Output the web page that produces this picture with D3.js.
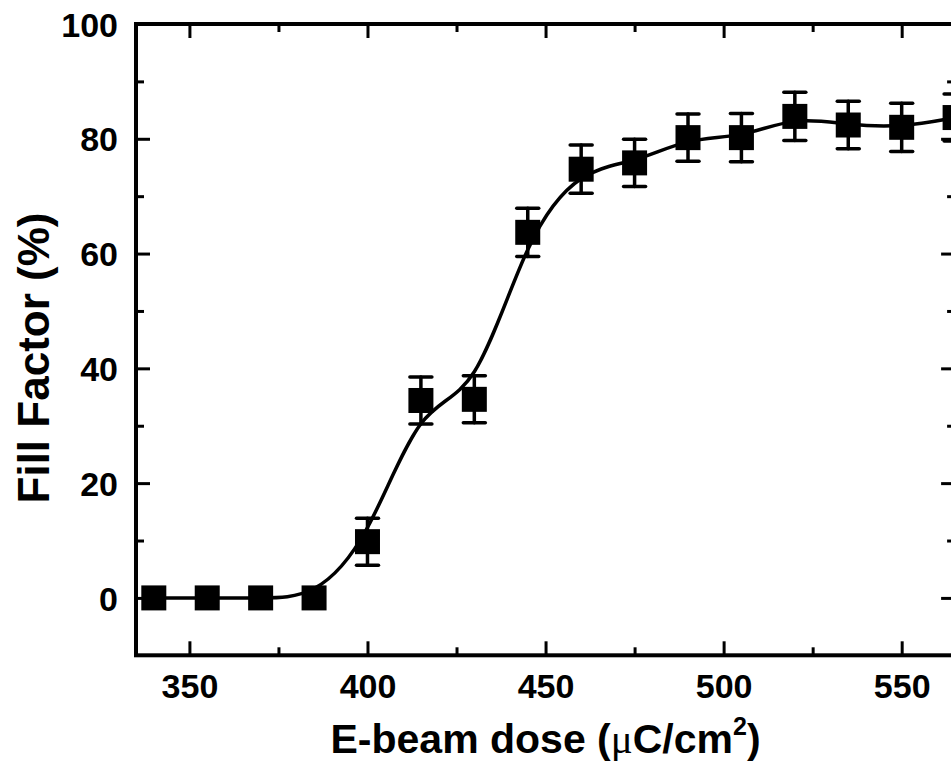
<!DOCTYPE html>
<html>
<head>
<meta charset="utf-8">
<script src="https://cdn.jsdelivr.net/npm/d3@7"></script>
<style>
  html, body { margin: 0; padding: 0; background: #fff; overflow: hidden; }
  svg { display: block; }
</style>
</head>
<body>
<svg id="chart" width="951" height="761"></svg>
<script>
// ---- data ----
const dose = [340, 355, 370, 385, 400, 415, 430, 445, 460, 475, 490, 505, 520, 535, 550, 565];
const fillFactor = [0, 0, 0, 0, 9.8, 34.4, 34.6, 63.7, 74.7, 75.8, 80.2, 80.2, 83.9, 82.4, 82.0, 83.7];
const fillError = [0, 0, 0, 0, 4.1, 4.1, 4.1, 4.2, 4.2, 4.1, 4.1, 4.2, 4.2, 4.15, 4.2, 4.1];
const xMajorTicks = [350, 400, 450, 500, 550];
const xMinorTicks = [375, 425, 475, 525];
const yMajorTicks = [0, 20, 40, 60, 80, 100];
const yMinorTicks = [10, 30, 50, 70, 90];
const xDomain = [335, 565];
const yDomain = [-10, 100];

(function () {
// ---- layout ----
const pL = 136, pR = 955.1, pT = 24, pB = 655.3;
const font = "'Liberation Sans', Arial, Helvetica, sans-serif";

const svg = d3.select("#chart");
const x = d3.scaleLinear().domain(xDomain).range([pL, pR]);
const y = d3.scaleLinear().domain(yDomain).range([pB, pT]);

function styleAxis(g) {
  g.select(".domain").remove();
  g.selectAll(".tick line").attr("stroke", "#000").attr("stroke-width", 3);
}
// bottom
svg.append("g").attr("transform", `translate(0,${pB})`)
  .call(d3.axisBottom(x).tickValues(xMajorTicks).tickSizeInner(-14).tickSizeOuter(0).tickPadding(0).tickFormat(d3.format("d")))
  .call(styleAxis)
  .call(g => g.selectAll(".tick text")
    .attr("y", 698 - pB).attr("dy", null)
    .attr("font-family", font).attr("font-weight", "bold").attr("font-size", 34).attr("fill", "#000"));
svg.append("g").attr("transform", `translate(0,${pB})`)
  .call(d3.axisBottom(x).tickValues(xMinorTicks).tickSizeInner(-8).tickSizeOuter(0).tickFormat(""))
  .call(styleAxis);
// top
svg.append("g").attr("transform", `translate(0,${pT})`)
  .call(d3.axisTop(x).tickValues(xMajorTicks).tickSizeInner(-14).tickSizeOuter(0).tickFormat(""))
  .call(styleAxis);
svg.append("g").attr("transform", `translate(0,${pT})`)
  .call(d3.axisTop(x).tickValues(xMinorTicks).tickSizeInner(-8).tickSizeOuter(0).tickFormat(""))
  .call(styleAxis);
// left
svg.append("g").attr("transform", `translate(${pL},0)`)
  .call(d3.axisLeft(y).tickValues(yMajorTicks).tickSizeInner(-14).tickSizeOuter(0).tickPadding(0).tickFormat(d3.format("d")))
  .call(styleAxis)
  .call(g => g.selectAll(".tick text")
    .attr("x", 118 - pL).attr("dy", "0.358em")
    .attr("font-family", font).attr("font-weight", "bold").attr("font-size", 34).attr("fill", "#000"));
svg.append("g").attr("transform", `translate(${pL},0)`)
  .call(d3.axisLeft(y).tickValues(yMinorTicks).tickSizeInner(-8).tickSizeOuter(0).tickFormat(""))
  .call(styleAxis);
// right
svg.append("g").attr("transform", `translate(${pR},0)`)
  .call(d3.axisRight(y).tickValues(yMajorTicks).tickSizeInner(-14).tickSizeOuter(0).tickFormat(""))
  .call(styleAxis);
svg.append("g").attr("transform", `translate(${pR},0)`)
  .call(d3.axisRight(y).tickValues(yMinorTicks).tickSizeInner(-8).tickSizeOuter(0).tickFormat(""))
  .call(styleAxis);

// frame
svg.append("rect")
  .attr("x", pL).attr("y", pT)
  .attr("width", pR - pL).attr("height", pB - pT)
  .attr("fill", "none").attr("stroke", "#000").attr("stroke-width", 4);

// ---- data ----
const pts = dose.map((d, i) => ({ x: d, y: fillFactor[i], e: fillError[i] }));

svg.append("path")
  .datum(pts)
  .attr("fill", "none").attr("stroke", "#000").attr("stroke-width", 3.5)
  .attr("d", d3.line().x(d => x(d.x)).y(d => y(d.y)).curve(d3.curveBasis));

const eb = svg.append("g").attr("stroke", "#000").attr("stroke-width", 3.5).attr("stroke-linecap", "round");
const capW = 22;
pts.filter(d => d.e > 0).forEach(d => {
  const cx = x(d.x), y1 = y(d.y - d.e), y2 = y(d.y + d.e);
  eb.append("line").attr("x1", cx).attr("x2", cx).attr("y1", y1).attr("y2", y2);
  eb.append("line").attr("x1", cx - capW / 2).attr("x2", cx + capW / 2).attr("y1", y1).attr("y2", y1);
  eb.append("line").attr("x1", cx - capW / 2).attr("x2", cx + capW / 2).attr("y1", y2).attr("y2", y2);
});

const sz = 25;
svg.append("g").selectAll("rect").data(pts).join("rect")
  .attr("x", d => x(d.x) - sz / 2).attr("y", d => y(d.y) - sz / 2)
  .attr("width", sz).attr("height", sz).attr("fill", "#000");

// ---- axis titles ----
const xt = svg.append("text")
  .attr("x", (pL + pR) / 2).attr("y", 753)
  .attr("text-anchor", "middle")
  .attr("font-family", font).attr("font-weight", "bold").attr("font-size", 41).attr("fill", "#000");
xt.append("tspan").text("E-beam dose (");
xt.append("tspan").attr("font-family", "'Liberation Serif', 'Times New Roman', serif").attr("font-weight", "normal").text("μ");
xt.append("tspan").text("C/cm");
xt.append("tspan").attr("font-size", 25).attr("dy", -18).text("2");
xt.append("tspan").attr("dy", 18).text(")");

svg.append("text")
  .attr("transform", "translate(49,358) rotate(-90)")
  .attr("text-anchor", "middle")
  .attr("font-family", font).attr("font-weight", "bold").attr("font-size", 44).attr("fill", "#000")
  .text("Fill Factor (%)");
})();
</script>
</body>
</html>
